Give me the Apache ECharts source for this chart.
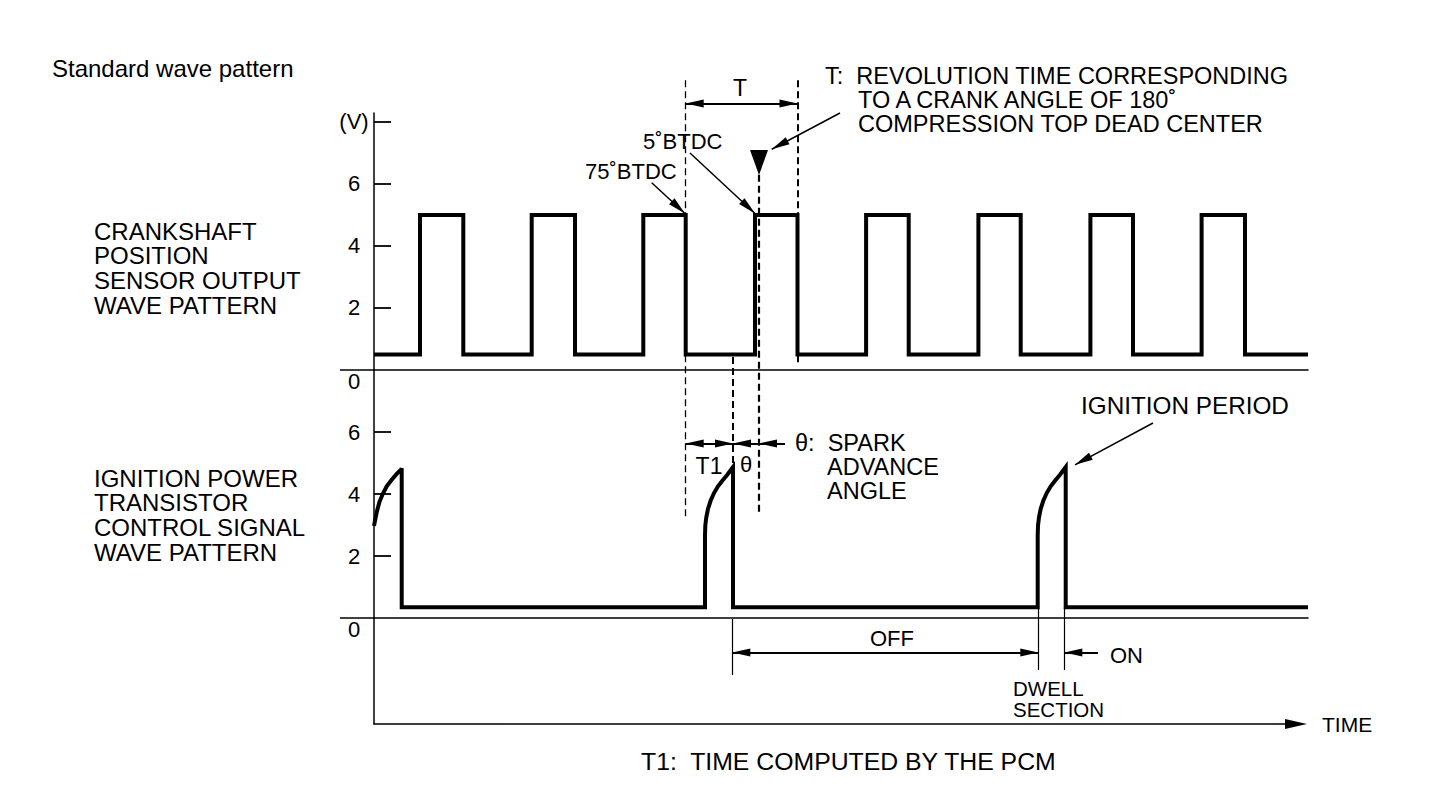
<!DOCTYPE html>
<html lang="en">
<head>
<meta charset="UTF-8">
<title>Standard wave pattern</title>
<script src="https://cdn.jsdelivr.net/npm/echarts@6/dist/echarts.min.js"></script>
<style>
  html, body { margin: 0; padding: 0; background: #fff; }
  #main { width: 1456px; height: 794px; }
</style>
</head>
<body>
<div id="main"></div>
<script type="text/javascript">
// time axis is in arbitrary units (0 = left axis)
var timeEnd = 934;

// crankshaft position sensor: square pulses (V)
var crankRise = [46, 157.7, 269.3, 381, 492.1, 604.4, 716.4, 827.6];
var crankFall = [89.3, 201, 311.7, 423.5, 534.7, 646.7, 759, 871];
var crankLow = 0.5;
var crankHigh = 5;

// ignition power transistor control signal (V)
var ignLow = 0.35;
// first pulse is cut by the axis: [time, volt]
var ignFirstPulse = [[0, 2.97], [2.7, 3.41], [5.3, 3.73], [8.7, 4.0], [12.7, 4.25],
                     [17.7, 4.46], [22.7, 4.65], [27, 4.78], [27.7, 4.83]];
// full dwell pulses, end (ignition) time of each
var ignPulseEnd = [359, 691.7];
// shape of the dwell curve (time before end, volt)
var dwellDt = [-28, -27.7, -26.7, -25, -22.4, -19, -15, -10.7, -5.7, 0];
var dwellVolt = [2.65, 2.98, 3.25, 3.52, 3.78, 4.03, 4.25, 4.43, 4.62, 4.87];

var upperTicks = [2, 4, 6, 8];
var lowerTicks = [2, 4, 6];

// build the polylines
var crankData = [[0, crankLow]];
for (var i = 0; i < crankRise.length; i++) {
    crankData.push([crankRise[i], crankLow], [crankRise[i], crankHigh],
                   [crankFall[i], crankHigh], [crankFall[i], crankLow]);
}
crankData.push([timeEnd, crankLow]);

var ignData = ignFirstPulse.slice();
ignData.push([ignFirstPulse[ignFirstPulse.length - 1][0], ignLow]);
ignPulseEnd.forEach(function (end) {
    ignData.push([end + dwellDt[0], ignLow]);
    for (var k = 0; k < dwellDt.length; k++) ignData.push([end + dwellDt[k], dwellVolt[k]]);
    ignData.push([end, ignLow]);
});
ignData.push([timeEnd, ignLow]);

var FONT = 'Liberation Sans';
var black = '#000';
var arrowPath = 'path://M5,0L10,22L0,22Z';

// annotation helpers (overlay grid: x = time, y = volts of the upper panel)
function seg(a, b, style, s1, s2) {
    return [
        { coord: a, symbol: s1 || 'none', lineStyle: style },
        { coord: b, symbol: s2 || 'none' }
    ];
}
var dash = function (w) { return { color: black, width: w, type: [7, 4] }; };
var solid = function (w) { return { color: black, width: w, type: 'solid' }; };

var notes = [
    // zero lines reach left of the voltage axis
    seg([-34, 0], [0, 0], solid(1.5)),
    seg([-34, -8], [0, -8], solid(1.5)),
    // guide lines
    seg([311.7, 9.35], [311.7, -4.77], dash(1.3)),
    seg([423.5, 9.35], [423.5, 0.16], dash(2)),
    seg([385, 6.3], [385, -4.68], dash(2.2)),
    seg([359, 0.42], [359, -3.16], dash(2)),
    // dimensions
    seg([311.7, 8.6], [423.5, 8.6], solid(2), arrowPath, arrowPath),
    seg([311.7, -2.37], [359, -2.37], solid(2), arrowPath, arrowPath),
    seg([411, -2.37], [385, -2.37], solid(2), 'none', arrowPath),
    seg([385, -2.37], [359, -2.37], solid(2), 'none', arrowPath),
    // leaders
    seg([466, 8.29], [397.7, 7.12], solid(1.5), 'none', arrowPath),
    seg([316, 7.0], [381, 5.05], solid(1.5), 'none', arrowPath),
    seg([277.7, 6.04], [311, 5.05], solid(1.5), 'none', arrowPath),
    seg([779, -1.71], [701, -3.06], solid(1.5), 'none', arrowPath),
    // OFF / ON
    seg([358.3, -9.11], [664.3, -9.11], solid(2), arrowPath, arrowPath),
    seg([724, -9.11], [690.3, -9.11], solid(2), 'none', arrowPath),
    seg([358.3, -8.03], [358.3, -9.84], solid(1.2)),
    seg([664.3, -7.65], [664.3, -9.68], solid(1.2)),
    seg([690.3, -7.65], [690.3, -9.68], solid(1.2))
];

function txt(x, y, s, opt) {
    opt = opt || {};
    var size = opt.size || 24;
    return {
        type: 'text', x: x, y: y, silent: true,
        style: {
            text: s, fill: black, fontFamily: FONT, fontSize: size,
            lineHeight: opt.lh || size,
            align: opt.align || 'left', verticalAlign: 'middle'
        }
    };
}

var texts = [
    txt(52, 68, 'Standard wave pattern', { size: 24 }),
    txt(94, 231, 'CRANKSHAFT', { size: 24 }),
    txt(94, 255.7, 'POSITION', { size: 24 }),
    txt(94, 280.4, 'SENSOR OUTPUT', { size: 24 }),
    txt(94, 305, 'WAVE PATTERN', { size: 24 }),
    txt(94, 478, 'IGNITION POWER', { size: 24 }),
    txt(94, 502.7, 'TRANSISTOR', { size: 24 }),
    txt(94, 527.4, 'CONTROL SIGNAL', { size: 24 }),
    txt(94, 552, 'WAVE PATTERN', { size: 24 }),
    txt(825, 76, 'T:  REVOLUTION TIME CORRESPONDING', { size: 23.5 }),
    txt(858, 100, 'TO A CRANK ANGLE OF 180\u02da', { size: 23.5 }),
    txt(858, 124, 'COMPRESSION TOP DEAD CENTER', { size: 23.5 }),
    txt(643, 141, '5\u02daBTDC', { size: 22 }),
    txt(585, 171, '75\u02daBTDC', { size: 22 }),
    txt(740, 88, 'T', { align: 'center', size: 23 }),
    txt(709, 466, 'T1', { align: 'center', size: 23 }),
    txt(746, 464, '\u03b8', { align: 'center', size: 22 }),
    txt(795, 443, '\u03b8:  SPARK', { size: 23.5 }),
    txt(827, 467, 'ADVANCE', { size: 23.5 }),
    txt(827, 491, 'ANGLE', { size: 23.5 }),
    txt(1081, 405, 'IGNITION PERIOD', { size: 24.3 }),
    txt(892, 638, 'OFF', { align: 'center', size: 22 }),
    txt(1110, 655, 'ON', { size: 22 }),
    txt(1013, 688, 'DWELL', { size: 20.5 }),
    txt(1013, 709, 'SECTION', { size: 20.5 }),
    txt(641, 761, 'T1:  TIME COMPUTED BY THE PCM', { size: 24.8 })
];

function voltAxis(gridIndex, max, ticks) {
    return {
        type: 'value', gridIndex: gridIndex, min: 0, max: max,
        splitLine: { show: false },
        axisLine: { show: true, onZero: false, lineStyle: { color: black, width: 1.5 } },
        axisTick: { show: true, inside: true, length: 17, customValues: ticks,
                    lineStyle: { color: black, width: 1.8 } },
        axisLabel: {
            show: true, margin: 20, align: 'center', color: black, fontFamily: FONT, fontSize: 22,
            customValues: [0].concat(ticks),
            formatter: function (v) {
                if (v === 0) return '{z|0}';
                if (v === 8) return '(V)';
                return String(v);
            },
            rich: { z: { padding: [22, 0, 0, 0], fontFamily: FONT, fontSize: 22, color: black } }
        }
    };
}
function timeAxis(gridIndex) {
    return {
        type: 'value', gridIndex: gridIndex, min: 0, max: timeEnd,
        splitLine: { show: false }, axisTick: { show: false }, axisLabel: { show: false },
        axisLine: { show: true, onZero: false, lineStyle: { color: black, width: 1.5 } }
    };
}

var myChart = echarts.init(document.getElementById('main'), null, { renderer: 'svg' });
var option = {
    backgroundColor: '#fff',
    animation: false,
    grid: [
        { left: 374, top: 113, width: 934, height: 257 },
        { left: 374, top: 370, width: 934, height: 248 },
        { left: 374, top: 618, width: 922, height: 106 },
        { left: 340, top: 44.5, width: 968, height: 697.5 }
    ],
    xAxis: [
        timeAxis(0),
        timeAxis(1),
        {
            type: 'value', gridIndex: 2, min: 0, max: 922,
            splitLine: { show: false }, axisTick: { show: false }, axisLabel: { show: false },
            axisLine: { show: true, onZero: false, symbol: ['none', arrowPath], symbolSize: [10, 25],
                        lineStyle: { color: black, width: 1.5 } },
            name: 'TIME', nameLocation: 'end', nameGap: 26,
            nameTextStyle: { color: black, fontFamily: FONT, fontSize: 21, verticalAlign: 'middle' }
        },
        { type: 'value', gridIndex: 3, min: -34, max: timeEnd, show: false }
    ],
    yAxis: [
        voltAxis(0, 8.29, upperTicks),
        voltAxis(1, 8, lowerTicks),
        {
            type: 'value', gridIndex: 2, min: 0, max: 1,
            splitLine: { show: false }, axisTick: { show: false }, axisLabel: { show: false },
            axisLine: { show: true, onZero: false, lineStyle: { color: black, width: 1.5 } }
        },
        { type: 'value', gridIndex: 3, min: -12, max: 10.5, show: false }
    ],
    graphic: texts,
    series: [
        {
            name: 'Crankshaft position sensor', type: 'line', xAxisIndex: 0, yAxisIndex: 0,
            data: crankData, showSymbol: false, silent: true,
            lineStyle: { color: black, width: 4, join: 'miter' }
        },
        {
            name: 'Ignition power transistor', type: 'line', xAxisIndex: 1, yAxisIndex: 1,
            data: ignData, showSymbol: false, silent: true,
            lineStyle: { color: black, width: 4, join: 'miter' }
        },
        {
            name: 'notes', type: 'line', xAxisIndex: 3, yAxisIndex: 3,
            data: [], silent: true,
            markLine: {
                silent: true, animation: false,
                symbolSize: [8, 18],
                symbolOffset: [[0, '50%'], [0, '50%']],
                label: { show: false },
                emphasis: { disabled: true },
                lineStyle: { color: black },
                data: notes
            },
            markPoint: {
                silent: true, animation: false,
                symbol: 'path://M0,0L10,0L5,14Z', symbolSize: [18, 25],
                itemStyle: { color: black },
                label: { show: false },
                data: [{ coord: [385, 6.69] }]
            }
        }
    ]
};
myChart.setOption(option);
</script>
</body>
</html>
